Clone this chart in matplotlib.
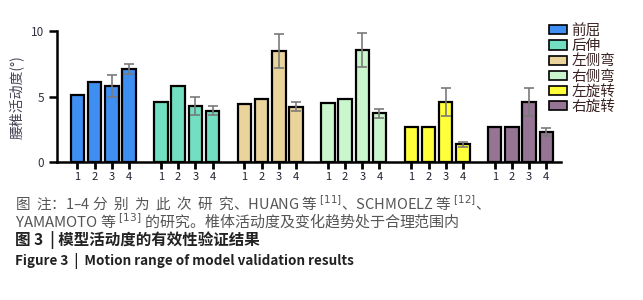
import matplotlib
matplotlib.use("Agg")
import matplotlib.pyplot as plt
import numpy as np
from matplotlib.patches import Patch

plt.rcParams['font.family'] = ['Noto Sans CJK SC', 'DejaVu Sans']

groups = ['前屈', '后伸', '左侧弯', '右侧弯', '左旋转', '右旋转']
studies = ['1', '2', '3', '4']
values = [
    [5.13, 6.09, 5.79, 7.08],
    [4.62, 5.81, 4.31, 3.93],
    [4.46, 4.84, 8.50, 4.23],
    [4.49, 4.84, 8.53, 3.73],
    [2.69, 2.69, 4.59, 1.37],
    [2.69, 2.69, 4.59, 2.33],
]
errors = [
    [0, 0, 0.85, 0.38],
    [0, 0, 0.70, 0.36],
    [0, 0, 1.30, 0.34],
    [0, 0, 1.30, 0.35],
    [0, 0, 1.10, 0.18],
    [0, 0, 1.10, 0.30],
]
colors = ['#3f8ef2', '#72dfc2', '#ead49c', '#c9f6cd', '#ffff3a', '#957593']

fig = plt.figure(figsize=(6.43, 3.0), dpi=100)
ax = fig.add_axes([57/643, 1-162.3/300, (561-57)/643, (162.3-31)/300])

gpitch = 4.85
xt, xl = [], []
for g, (vals, errs, c) in enumerate(zip(values, errors, colors)):
    xs = g*gpitch + np.arange(len(vals))
    ax.bar(xs, vals, width=0.78, color=c, edgecolor='black', linewidth=1.6, zorder=2)
    for x, v, e in zip(xs, vals, errs):
        if e > 0:
            ax.errorbar([x], [v], yerr=[e], fmt='none', ecolor='#7a7a7a',
                        elinewidth=1.2, capsize=3.5, capthick=1.2, zorder=3)
    xt.extend(xs)
    xl.extend(studies)

ax.set_xlim(-1.19, 28.1)
ax.set_ylim(0, 10)
ax.set_yticks([0, 5, 10])
ax.set_xticks(xt)
ax.set_xticklabels(xl, fontsize=8, color='#222233')
ax.tick_params(axis='y', labelsize=8.5, labelcolor='#333344', length=6, width=1.8, direction='out')
ax.tick_params(axis='x', length=5, width=2, direction='out', pad=2)
for s in ['top', 'right']:
    ax.spines[s].set_visible(False)
for s in ['left', 'bottom']:
    ax.spines[s].set_linewidth(1.8)
ax.set_ylabel('腰椎活动度(°)', fontsize=10, color='#444455', labelpad=5)

handles = [Patch(facecolor=c, edgecolor='black', linewidth=1.2) for c in colors]
fig.legend(handles, groups, loc='upper left', bbox_to_anchor=(549/643, 1-24/300),
           frameon=False, fontsize=10.5, handlelength=1.25, handleheight=0.6,
           labelspacing=0.08, handletextpad=0.3, borderpad=0, borderaxespad=0,
           labelcolor='#3a2222')

fig.text(15/643, 1-203/300,
         '图  注：1–4 分  别  为  此  次  研  究、HUANG 等 $^{[11]}$、SCHMOELZ 等 $^{[12]}$、',
         fontsize=10.5, color='#555555', va='center')
fig.text(15/643, 1-221/300,
         'YAMAMOTO 等 $^{[13]}$ 的研究。椎体活动度及变化趋势处于合理范围内',
         fontsize=10.8, color='#555555', va='center')
fig.text(15/643, 1-240/300, '图 3  | 模型活动度的有效性验证结果',
         fontsize=11.2, color='#222222', fontweight='bold', va='center')
fig.text(15/643, 1-261/300, 'Figure 3  |  Motion range of model validation results',
         fontsize=9.7, color='#222222', fontweight='bold', va='center')

fig.savefig('out.png', dpi=100)
